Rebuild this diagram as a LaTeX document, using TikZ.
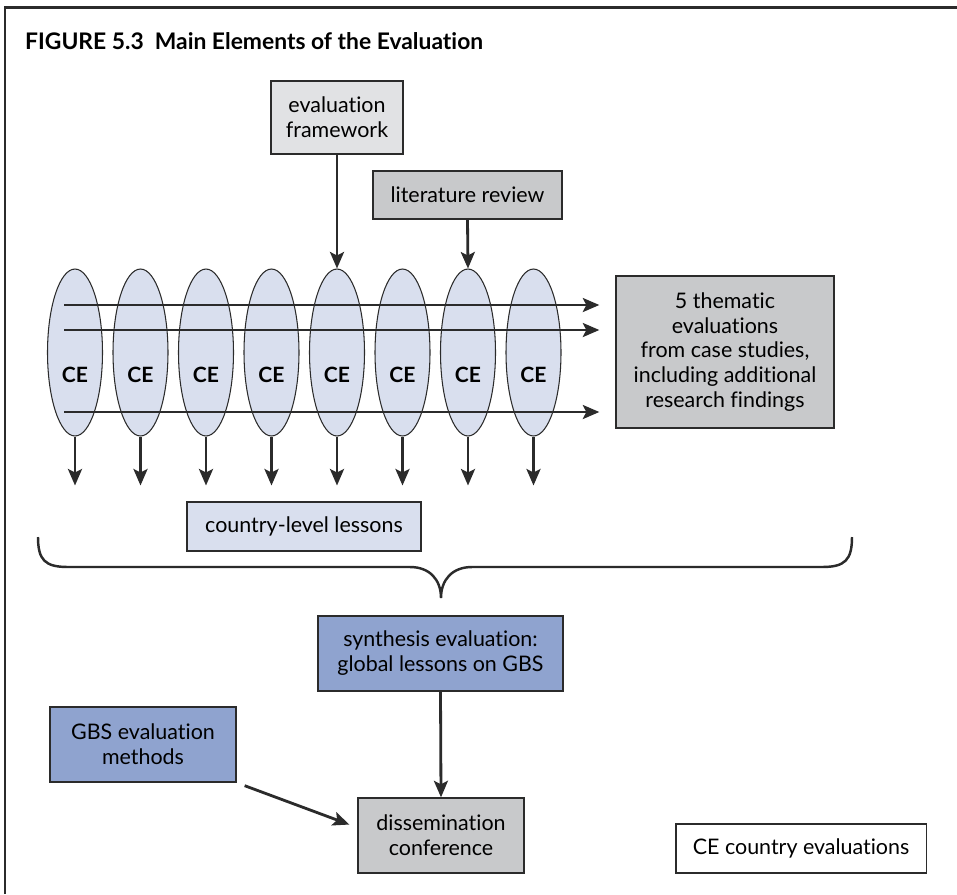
\documentclass[tikz,border=0pt]{standalone}
\usepackage{fontspec}
\setmainfont{Lato}[Ligatures=NoCommon]
\usetikzlibrary{arrows.meta,shapes.geometric}

\definecolor{paleblue}{HTML}{D9DFEE}
\definecolor{midblue}{HTML}{8FA3CF}
\definecolor{midgray}{HTML}{C8C9CB}
\definecolor{lightgray}{HTML}{E1E2E4}
\definecolor{edge}{HTML}{2B2B2B}

\tikzset{
  box/.style={draw=edge, line width=0.8pt, align=center, inner sep=0pt,
    font=\fontsize{12.2}{14.2}\selectfont},
  ce/.style={ellipse, draw=edge, line width=0.6pt, fill=paleblue,
    minimum width=1.1cm, minimum height=3.34cm, inner sep=0pt},
  arr/.style={-{Stealth[length=0.33cm,width=0.28cm,inset=0.07cm]},
    line width=1.6pt, draw=edge},
}

\begin{document}
\begin{tikzpicture}[x=0.02cm, y=-0.02cm]
  \useasboundingbox (0,0) rectangle (957,894);
  \draw[line width=1.7pt, draw=edge] (5,894) -- (5,7) -- (957,7);
  \node[anchor=west, font=\fontsize{13}{15}\selectfont\bfseries]
    (title) at (19,41) {FIGURE 5.3 \ Main Elements of the Evaluation};

  % inputs on top
  \node[box, fill=lightgray, minimum width=2.64cm, minimum height=1.46cm]
    (frame) at (337,117.5) {evaluation\\framework};
  \node[box, fill=midgray, minimum width=3.78cm, minimum height=0.96cm]
    (lit) at (467.5,195) {literature review};

  % country evaluations
  \foreach \i in {1,...,8} {
    \node[ce] (ce\i) at ({75+65.5*(\i-1)},352.5) {};
    \node[font=\fontsize{12}{14}\selectfont\bfseries] (cet\i)
      at ({75+65.5*(\i-1)},375) {CE};
  }

  \node[box, fill=midgray, minimum width=4.36cm, minimum height=3.04cm]
    (them) at (725,352) {5 thematic\\evaluations\\from case studies,\\including additional\\research findings};

  \coordinate (h1) at (64,305);
  \coordinate (h2) at (64,330);
  \coordinate (h3) at (64,412);
  \foreach \j in {1,2,3}
    \draw[arr, shorten >=0.32cm] (h\j) -- (h\j -| them.west);

  \foreach \i in {1,...,8}
    \draw[arr] (ce\i.south) -- ++(0,49);

  \draw[arr] (frame.south) -- (ce5.north);
  \draw[arr] (lit.south) -- (ce7.north);

  \node[box, fill=paleblue, minimum width=4.68cm, minimum height=0.98cm]
    (lessons) at (304,526.5) {country-level lessons};

  % brace
  \draw[line width=1.4pt, draw=edge] (38,537) .. controls (38,560) and (45,567) .. (68,567)
    -- (410,567) .. controls (430,567) and (441,580) .. (441,598)
    .. controls (441,580) and (452,567) .. (472,567)
    -- (822,567) .. controls (845,567) and (852,560) .. (852,537);

  \node[box, fill=midblue, minimum width=4.9cm, minimum height=1.5cm]
    (syn) at (440.5,653.5) {synthesis evaluation:\\global lessons on GBS};
  \node[box, fill=midblue, minimum width=3.72cm, minimum height=1.5cm]
    (gbs) at (143,744.5) {GBS evaluation\\methods};
  \node[box, fill=midgray, minimum width=3.32cm, minimum height=1.5cm]
    (dis) at (441,835.5) {dissemination\\conference};

  \draw[arr] (syn.south) -- (dis.north);
  \draw[arr, shorten <=0.17cm, shorten >=0.17cm] (gbs.south east) -- ([yshift=0.16cm]dis.west);

  % legend
  \node[box, fill=white, anchor=east, inner xsep=0.34cm, minimum height=0.98cm]
    (key) at (927,848.5) {CE country evaluations};
\end{tikzpicture}
\end{document}
